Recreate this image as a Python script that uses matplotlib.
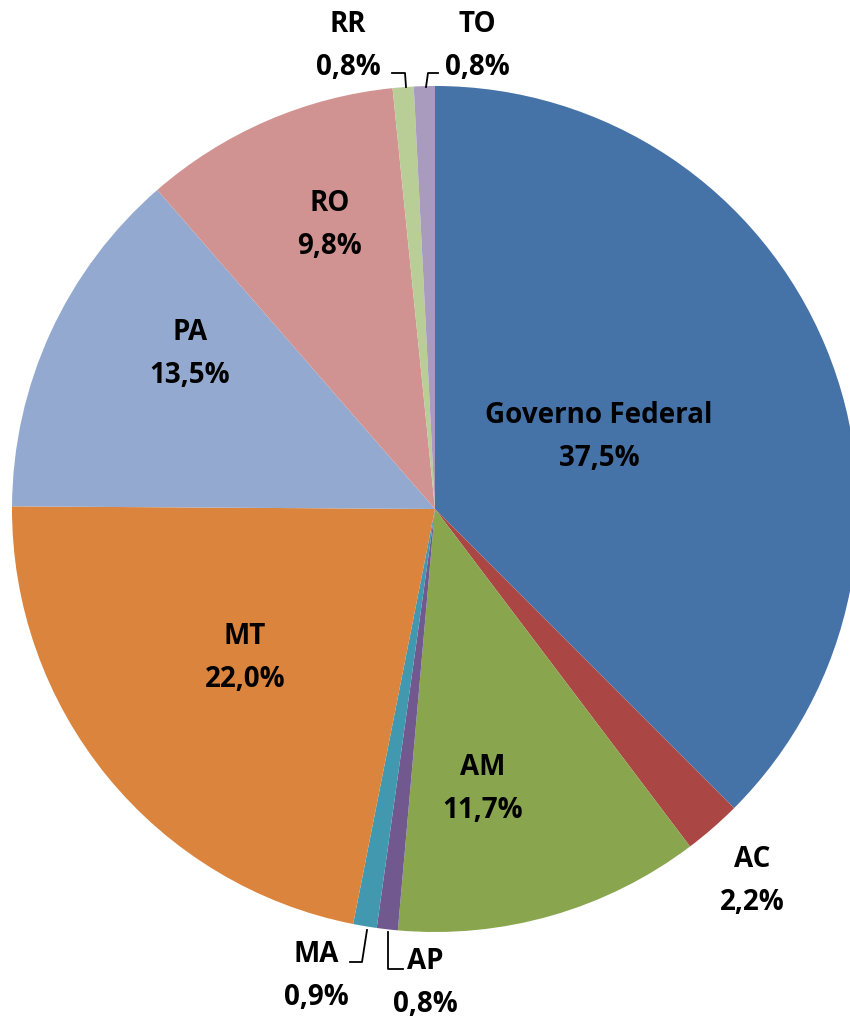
import matplotlib.pyplot as plt

# data
names = ['Governo Federal', 'AC', 'AM', 'AP', 'MA', 'MT', 'PA', 'RO', 'RR', 'TO']
shares = [37.5, 2.2, 11.7, 0.8, 0.9, 22.0, 13.5, 9.8, 0.8, 0.8]
colors = ['#4572A7', '#AA4643', '#89A54E', '#71588F', '#4198AF',
          '#DB843D', '#93A9CF', '#D19392', '#B9CD96', '#A99BBD']

# label centres (pixel coords, y from top)
label_pos = [(599, 437), (752, 881), (483, 789), (425, 983), (316, 976),
             (245, 658), (190, 354), (330, 225), (348, 46), (477, 46)]

# leader lines for the thin slices
leaders = {
    'RR': [(392, 74), (405, 74), (406, 88)],
    'TO': [(438, 74), (428, 74), (426, 88)],
    'MA': [(350, 963), (362, 963), (367, 931)],
    'AP': [(388, 933), (388, 970), (403, 970)],
}

W, H = 850, 1020
fig = plt.figure(figsize=(W / 100, H / 100), dpi=100)
ax = fig.add_axes([0, 0, 1, 1])
ax.set_xlim(0, W)
ax.set_ylim(0, H)
ax.axis('off')

ax.pie(shares, colors=colors, startangle=90, counterclock=False,
       center=(435, H - 510), radius=423,
       wedgeprops=dict(linewidth=0))
ax.set_xlim(0, W)
ax.set_ylim(0, H)

for n, v, (x, y) in zip(names, shares, label_pos):
    txt = n + '\n' + ('%.1f%%' % v).replace('.', ',')
    ax.text(x, H - y, txt, ha='center', va='center', fontsize=20,
            fontweight='bold', family='Open Sans', linespacing=1.65,
            color='black')

for pts in leaders.values():
    ax.plot([p[0] for p in pts], [H - p[1] for p in pts], color='black', lw=1.3)

fig.savefig('out.png', dpi=100)
